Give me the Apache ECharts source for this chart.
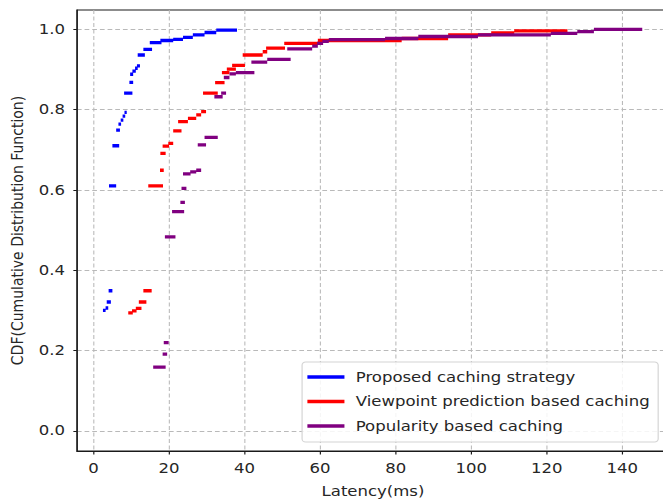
<!DOCTYPE html>
<html>
<head>
<meta charset="utf-8">
<script src="https://cdn.jsdelivr.net/npm/echarts@6/dist/echarts.min.js"></script>
<style>
  html, body { margin: 0; padding: 0; background: #fff; overflow: hidden; width: 663px; height: 503px; }
  /* the figure is laid out narrower and widened horizontally */
  #chart { width: 580px; height: 503px; transform: scaleX(1.18); transform-origin: 0 0; }
</style>
</head>
<body>
<div id="chart"></div>
<script>
// Latency steps of each empirical CDF: [latency start (ms), latency end (ms), CDF]
const proposedSteps = [
  [2.5, 3.2, 0.300], [3.2, 3.9, 0.306], [3.5, 4.6, 0.321], [4.0, 5.0, 0.349],
  [4.1, 6.0, 0.610], [5.0, 6.8, 0.710], [6.0, 7.0, 0.749],
  [6.6, 7.3, 0.764], [7.2, 7.9, 0.774], [7.7, 8.4, 0.784], [8.2, 8.8, 0.793],
  [8.1, 10.3, 0.841], [9.5, 10.5, 0.868],
  [9.7, 10.5, 0.888], [10.3, 11.2, 0.896], [11.0, 11.7, 0.903], [11.5, 12.3, 0.909],
  [11.7, 13.6, 0.936], [13.2, 15.5, 0.950], [14.9, 18.0, 0.967], [17.7, 21.1, 0.972],
  [21.1, 23.7, 0.975], [23.7, 26.3, 0.980], [26.3, 29.4, 0.986], [29.4, 32.5, 0.992],
  [32.5, 38.0, 0.998]
];
const viewpointSteps = [
  [9.2, 10.4, 0.294], [10.2, 11.4, 0.299], [11.2, 12.7, 0.305], [12.0, 14.0, 0.321],
  [13.2, 15.4, 0.349], [14.5, 18.4, 0.610], [17.6, 18.6, 0.649], [17.7, 19.1, 0.691],
  [18.3, 20.0, 0.709], [19.8, 21.1, 0.716], [21.1, 23.3, 0.747], [22.4, 25.0, 0.770],
  [25.0, 27.2, 0.778], [27.2, 28.5, 0.787], [28.5, 29.8, 0.795], [29.0, 32.9, 0.841],
  [32.2, 34.7, 0.867], [34.0, 36.0, 0.892], [35.3, 37.7, 0.901], [36.7, 40.1, 0.910],
  [39.5, 44.8, 0.936], [44.8, 46.0, 0.944], [45.7, 50.7, 0.953], [50.5, 59.5, 0.965],
  [59.4, 81.6, 0.972], [81.6, 93.9, 0.977], [93.9, 105.3, 0.986], [105.3, 111.4, 0.991],
  [111.4, 125.5, 0.996]
];
const popularitySteps = [
  [15.8, 19.1, 0.159], [18.3, 19.5, 0.191], [18.6, 19.9, 0.220], [18.9, 21.7, 0.483],
  [20.8, 24.0, 0.546], [23.0, 24.2, 0.569], [23.3, 24.6, 0.604], [23.7, 25.7, 0.640],
  [25.6, 27.2, 0.645], [27.2, 28.5, 0.649], [27.6, 29.8, 0.712], [29.4, 32.9, 0.731],
  [32.0, 34.2, 0.832], [33.8, 35.1, 0.841], [34.5, 36.0, 0.880], [36.0, 37.7, 0.889],
  [37.7, 42.6, 0.892], [41.8, 46.0, 0.918], [46.0, 52.2, 0.925], [51.3, 57.9, 0.951],
  [57.9, 59.4, 0.958], [59.2, 60.8, 0.965], [60.6, 62.3, 0.970], [62.3, 77.2, 0.974],
  [77.2, 86.0, 0.977], [86.0, 101.8, 0.982], [101.8, 121.1, 0.986], [121.1, 128.1, 0.990],
  [128.1, 132.5, 0.994], [132.5, 145.3, 1.000]
];

const seriesNames = ['Proposed caching strategy', 'Viewpoint prediction based caching', 'Popularity based caching'];
const seriesColors = ['#0000ff', '#ff0000', '#800080'];
const xTicks = [0, 20, 40, 60, 80, 100, 120, 140];
const yTicks = [0, 0.2, 0.4, 0.6, 0.8, 1.0];

// each step becomes its own horizontal piece, separated by an empty point
function stepPieces(steps) {
  const out = [];
  steps.forEach(function (s) {
    out.push([s[0], s[2]], [s[1], s[2]], [s[1], '-']);
  });
  return out;
}

const font = 'DejaVu Sans';
const textColor = '#262626';
const gridLine = { show: true, lineStyle: { color: '#b9b9b9', type: [4, 2.5], width: 0.9 } };

const chart = echarts.init(document.getElementById('chart'), null, { renderer: 'svg' });
chart.setOption({
  animation: false,
  backgroundColor: '#ffffff',
  grid: {
    left: 62, right: 13, top: 10, bottom: 52,
    show: true, borderColor: '#1a1a1a', borderWidth: 1, backgroundColor: 'transparent'
  },
  legend: {
    orient: 'vertical',
    left: 256, top: 362,
    padding: [8, 7, 9, 4.5],
    itemGap: 10.5,
    itemWidth: 31.4, itemHeight: 3.3,
    icon: 'rect',
    backgroundColor: 'rgba(255,255,255,0.85)',
    borderColor: '#d4d4d4', borderWidth: 1, borderRadius: 3,
    textStyle: { fontFamily: font, fontSize: 14, color: textColor, lineHeight: 14, padding: [0, 0, 0, 4.6] },
    data: seriesNames
  },
  xAxis: {
    type: 'value',
    min: -4.4, max: 152.4,
    splitNumber: 8,
    name: 'Latency(ms)', nameLocation: 'middle', nameGap: 33,
    nameTextStyle: { fontFamily: font, fontSize: 14, color: textColor },
    axisLine: { show: true, onZero: false, lineStyle: { color: '#1a1a1a', width: 1 } },
    axisTick: { show: true, length: 3.5, customValues: xTicks, lineStyle: { color: '#1a1a1a' } },
    axisLabel: {
      customValues: xTicks, margin: 10,
      fontFamily: font, fontSize: 14, color: textColor,
      formatter: function (v) { return String(v); }
    },
    splitLine: gridLine
  },
  yAxis: {
    type: 'value',
    min: -0.05, max: 1.048,
    name: 'CDF(Cumulative Distribution Function)', nameLocation: 'middle', nameGap: 40, nameRotate: 90,
    nameTextStyle: { fontFamily: font, fontSize: 14, color: textColor },
    axisLine: { show: true, onZero: false, lineStyle: { color: '#1a1a1a', width: 1 } },
    axisTick: { show: true, length: 3, customValues: yTicks, lineStyle: { color: '#1a1a1a' } },
    axisLabel: {
      customValues: yTicks, margin: 10,
      fontFamily: font, fontSize: 14, color: textColor,
      formatter: function (v) { return v.toFixed(1); }
    },
    splitLine: gridLine
  },
  series: [proposedSteps, viewpointSteps, popularitySteps].map(function (steps, i) {
    return {
      name: seriesNames[i],
      type: 'line',
      data: stepPieces(steps),
      showSymbol: false,
      symbol: 'none',
      connectNulls: false,
      color: seriesColors[i],
      lineStyle: { color: seriesColors[i], width: 3.3, cap: 'butt' },
      z: 2 + i
    };
  })
});
</script>
</body>
</html>
